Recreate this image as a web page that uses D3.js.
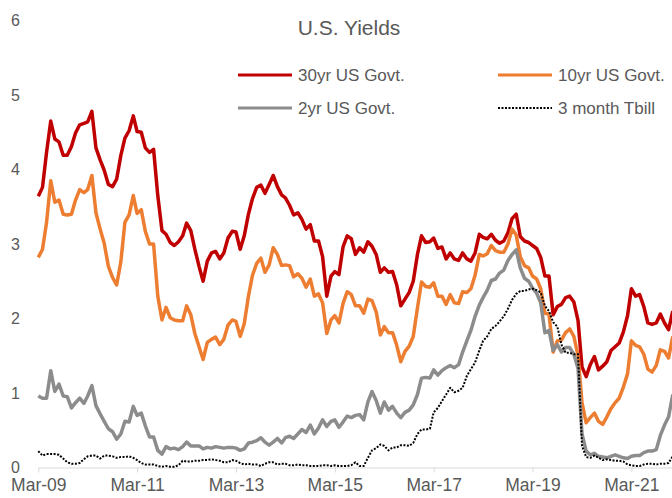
<!DOCTYPE html>
<html>
<head>
<meta charset="utf-8">
<script src="https://cdn.jsdelivr.net/npm/d3@7"></script>
<style>
  body { margin: 0; background: #fff; }
  text { font-family: "Liberation Sans", Arial, sans-serif; fill: #595959; }
</style>
</head>
<body>
<svg id="chart" width="672" height="498"></svg>
<script>
// monthly yields, starting Mar 2009 (peaks/troughs nudged to what the picture shows)
var startMonth = "2009-03";

var seriesNames = ["30yr US Govt.", "10yr US Govt.", "2yr US Govt.", "3 month Tbill"];

var y30 = [
  3.64, 3.76, 4.23, 4.65, 4.41, 4.37, 4.19, 4.19, 4.31, 4.49,
  4.60, 4.62, 4.64, 4.78, 4.29, 4.13, 3.99, 3.80, 3.77, 3.87, 4.19, 4.42,
  4.52, 4.72, 4.51, 4.50, 4.29, 4.23, 4.27, 3.65, 3.18, 3.13, 3.02, 2.98,
  3.03, 3.11, 3.28, 3.18, 2.93, 2.70, 2.50, 2.77, 2.88, 2.90, 2.80, 2.88,
  3.08, 3.17, 3.16, 2.93, 3.11, 3.40, 3.61, 3.76, 3.79, 3.68, 3.80, 3.92,
  3.77, 3.66, 3.62, 3.52, 3.39, 3.42, 3.33, 3.20, 3.26, 3.04, 3.04, 2.83,
  2.30, 2.57, 2.63, 2.59, 2.96, 3.11, 3.07, 2.86, 2.95, 2.89, 3.03, 2.97,
  2.86, 2.62, 2.68, 2.62, 2.63, 2.45, 2.17, 2.26, 2.35, 2.50, 2.86, 3.11,
  3.02, 3.03, 3.08, 2.94, 2.96, 2.80, 2.88, 2.80, 2.78, 2.88, 2.80, 2.77,
  2.88, 3.13, 3.09, 3.07, 3.13, 3.05, 3.01, 3.04, 3.15, 3.34, 3.40, 3.10,
  3.04, 3.02, 2.98, 2.94, 2.82, 2.57, 2.57, 2.05, 2.16, 2.19, 2.28, 2.30,
  2.22, 1.97, 1.35, 1.22, 1.38, 1.49, 1.31, 1.36, 1.42, 1.57, 1.62, 1.67,
  1.82, 2.04, 2.40, 2.30, 2.32, 2.16, 1.94, 1.92, 1.94, 2.06, 1.94, 1.85,
  2.10
];

var y10 = [
  2.82, 2.93, 3.29, 3.85, 3.56, 3.59, 3.40, 3.39, 3.40, 3.59,
  3.73, 3.69, 3.73, 3.92, 3.42, 3.20, 3.01, 2.70, 2.55, 2.45, 2.76, 3.29,
  3.39, 3.65, 3.41, 3.46, 3.17, 3.00, 3.00, 2.30, 1.98, 2.15, 2.01, 1.98,
  1.97, 1.97, 2.17, 2.05, 1.80, 1.62, 1.45, 1.68, 1.72, 1.75, 1.65, 1.72,
  1.91, 1.98, 1.96, 1.76, 1.93, 2.30, 2.58, 2.74, 2.81, 2.62, 2.72, 2.95,
  2.86, 2.71, 2.72, 2.71, 2.56, 2.60, 2.54, 2.42, 2.53, 2.30, 2.33, 2.21,
  1.80, 1.98, 2.04, 1.94, 2.20, 2.36, 2.32, 2.17, 2.17, 2.07, 2.26, 2.24,
  2.09, 1.78, 1.89, 1.81, 1.81, 1.64, 1.42, 1.56, 1.63, 1.76, 2.14, 2.49,
  2.43, 2.42, 2.48, 2.30, 2.30, 2.19, 2.32, 2.21, 2.20, 2.36, 2.35, 2.40,
  2.58, 2.86, 2.84, 2.87, 2.98, 2.91, 2.89, 2.89, 3.00, 3.20, 3.12, 2.83,
  2.71, 2.68, 2.57, 2.53, 2.40, 2.07, 2.06, 1.55, 1.70, 1.71, 1.81, 1.86,
  1.76, 1.50, 0.87, 0.60, 0.67, 0.73, 0.62, 0.58, 0.68, 0.79, 0.87, 0.93,
  1.08, 1.26, 1.70, 1.64, 1.62, 1.52, 1.32, 1.28, 1.37, 1.58, 1.56, 1.47,
  1.76
];

var y2 = [
  0.96, 0.93, 0.93, 1.30, 1.02, 1.12, 0.96, 0.95, 0.80, 0.87,
  0.93, 0.86, 0.96, 1.10, 0.83, 0.72, 0.62, 0.52, 0.48, 0.38, 0.45, 0.62,
  0.61, 0.82, 0.70, 0.73, 0.56, 0.41, 0.41, 0.23, 0.18, 0.28, 0.25, 0.26,
  0.24, 0.28, 0.34, 0.29, 0.29, 0.29, 0.25, 0.27, 0.26, 0.28, 0.27, 0.26,
  0.27, 0.27, 0.26, 0.23, 0.25, 0.33, 0.34, 0.36, 0.40, 0.34, 0.30, 0.34,
  0.39, 0.33, 0.40, 0.42, 0.39, 0.45, 0.51, 0.47, 0.57, 0.45, 0.53, 0.64,
  0.55, 0.62, 0.64, 0.54, 0.61, 0.69, 0.67, 0.70, 0.71, 0.64, 0.88, 1.02,
  0.90, 0.73, 0.88, 0.77, 0.82, 0.73, 0.67, 0.74, 0.77, 0.84, 0.98, 1.20,
  1.21, 1.20, 1.31, 1.24, 1.30, 1.34, 1.37, 1.34, 1.38, 1.55, 1.70, 1.84,
  2.03, 2.18, 2.28, 2.38, 2.51, 2.53, 2.61, 2.65, 2.78, 2.86, 2.92, 2.68,
  2.54, 2.50, 2.41, 2.34, 2.21, 1.81, 1.84, 1.57, 1.65, 1.55, 1.61, 1.61,
  1.52, 1.33, 0.45, 0.22, 0.17, 0.19, 0.15, 0.14, 0.13, 0.15, 0.17, 0.15,
  0.13, 0.12, 0.15, 0.16, 0.16, 0.20, 0.22, 0.22, 0.24, 0.43, 0.57, 0.68,
  0.98
];

var t3 = [
  0.22, 0.16, 0.18, 0.18, 0.18, 0.17, 0.12, 0.07, 0.05, 0.05,
  0.06, 0.11, 0.15, 0.16, 0.16, 0.12, 0.16, 0.16, 0.15, 0.13, 0.14, 0.14,
  0.15, 0.13, 0.10, 0.06, 0.04, 0.04, 0.04, 0.02, 0.01, 0.02, 0.01, 0.01,
  0.03, 0.09, 0.08, 0.08, 0.09, 0.09, 0.10, 0.10, 0.11, 0.10, 0.09, 0.07,
  0.07, 0.10, 0.09, 0.06, 0.04, 0.05, 0.04, 0.04, 0.02, 0.05, 0.07, 0.07,
  0.04, 0.05, 0.05, 0.03, 0.03, 0.04, 0.03, 0.03, 0.02, 0.02, 0.02, 0.03,
  0.03, 0.02, 0.03, 0.02, 0.02, 0.02, 0.03, 0.07, 0.02, 0.02, 0.13, 0.23,
  0.26, 0.31, 0.29, 0.23, 0.27, 0.27, 0.30, 0.30, 0.29, 0.33, 0.45, 0.51,
  0.51, 0.52, 0.74, 0.80, 0.89, 0.98, 1.07, 1.01, 1.03, 1.07, 1.23, 1.32,
  1.41, 1.57, 1.70, 1.76, 1.86, 1.90, 1.96, 2.03, 2.13, 2.25, 2.33, 2.37,
  2.37, 2.39, 2.40, 2.38, 2.35, 2.17, 2.10, 1.95, 1.89, 1.65, 1.54, 1.54,
  1.52, 1.52, 0.29, 0.14, 0.13, 0.16, 0.13, 0.10, 0.11, 0.10, 0.09, 0.09,
  0.08, 0.04, 0.03, 0.02, 0.02, 0.04, 0.05, 0.05, 0.04, 0.05, 0.05, 0.06,
  0.15
];

var tickLabels = ["Mar-09", "Mar-11", "Mar-13", "Mar-15", "Mar-17", "Mar-19", "Mar-21"];
var yTicks = [0, 1, 2, 3, 4, 5, 6];

var colors = ["#C00000", "#ED7D31", "#8C8C8C", "#000000"];

var parseMonth = d3.timeParse("%Y-%m"),
    parseTick = d3.timeParse("%b-%y");

var start = parseMonth(startMonth);
var months = d3.range(y30.length).map(function(i) { return d3.timeMonth.offset(start, i); });

var svg = d3.select("#chart");

// Excel style: axis starts at first tick, runs off the right edge
var x = d3.scaleTime()
    .domain([start, d3.timeYear.offset(start, 13)])
    .range([38.3, 38.3 + 13 * 49.42]);

var y = d3.scaleLinear()
    .domain([0, 6])
    .range([467.5, 20.5]);

// title
svg.append("text")
    .attr("x", 349)
    .attr("y", 35)
    .attr("text-anchor", "middle")
    .style("font-size", "21px")
    .text("U.S. Yields");

// y axis, labels only
var yAxis = svg.append("g")
    .attr("transform", "translate(20,0)")
    .call(d3.axisLeft(y).tickValues(yTicks).tickSize(0).tickPadding(0).tickFormat(d3.format("d")));
yAxis.select(".domain").remove();
yAxis.selectAll("text")
    .style("font-size", "16px")
    .style("font-family", "\"Liberation Sans\", Arial, sans-serif")
    .attr("fill", "#595959");

// x axis
var xAxis = svg.append("g")
    .attr("transform", "translate(0,467.5)")
    .call(d3.axisBottom(x)
      .tickValues(tickLabels.map(function(t) { return parseTick(t); }))
      .tickFormat(function(d, i) { return tickLabels[i]; })
      .tickSizeInner(5)
      .tickSizeOuter(0)
      .tickPadding(6));
xAxis.select(".domain").attr("stroke", "#D9D9D9").attr("stroke-width", 1);
xAxis.selectAll(".tick line").attr("stroke", "#D9D9D9");
xAxis.selectAll("text")
    .style("font-size", "17.5px")
    .style("font-family", "\"Liberation Sans\", Arial, sans-serif")
    .attr("fill", "#595959");

// lines
var allSeries = [y30, y10, y2, t3];

var line = d3.line()
    .x(function(d, i) { return x(months[i]); })
    .y(function(d) { return y(d); });

allSeries.forEach(function(vals, k) {
  var path = svg.append("path")
      .datum(vals)
      .attr("fill", "none")
      .attr("stroke", colors[k])
      .attr("stroke-linejoin", "round")
      .attr("d", line);

  if (k == 3) {
    path.attr("stroke-width", 2).attr("stroke-dasharray", "2,1.5");
  } else {
    path.attr("stroke-width", 3.5);
  }
});

// legend, 2x2
var legendPos = [[238, 75], [498, 75], [238, 108], [498, 108]];

seriesNames.forEach(function(name, k) {
  var p = legendPos[k];
  var g = svg.append("g").attr("transform", "translate(" + p[0] + "," + p[1] + ")");

  var l = g.append("line")
      .attr("x1", 0).attr("x2", 54)
      .attr("y1", 0).attr("y2", 0)
      .attr("stroke", colors[k]);
  if (k == 3) l.attr("stroke-width", 2).attr("stroke-dasharray", "2,1.5");
  else l.attr("stroke-width", 3);

  g.append("text")
      .attr("x", 60)
      .attr("y", 6)
      .style("font-size", "17px")
      .text(name);
});
</script>
</body>
</html>
